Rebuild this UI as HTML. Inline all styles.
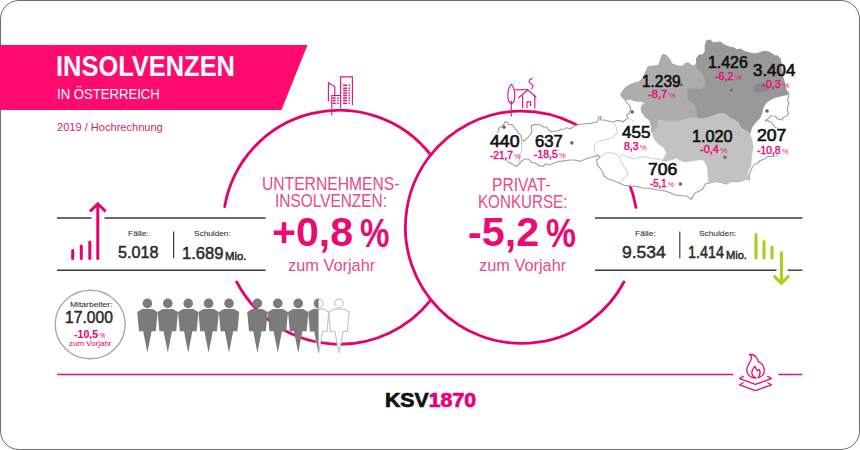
<!DOCTYPE html>
<html><head><meta charset="utf-8">
<style>
*{margin:0;padding:0;box-sizing:border-box}
html,body{width:860px;height:450px;overflow:hidden;background:#fff}
body{position:relative;font-family:"Liberation Sans",sans-serif}
.t{position:absolute;white-space:nowrap;line-height:1}
.frame{position:absolute;left:0;top:0;width:860px;height:450px;border:1.5px solid #6e6e6e;border-radius:19px}
svg{position:absolute;left:0;top:0}
.pk{color:#e5006e}
.dk{color:#2b2b2b}
.sk{-webkit-text-stroke:0.5px #2b2b2b}
.sk2{-webkit-text-stroke:0.08px #2b2b2b;color:#333}
.hd{color:#e64a8a}
.big{color:#ea0a72}
.b{font-weight:bold}
.pc{font-size:0.62em;font-weight:normal;margin-left:0.18em}
.nm{color:#111;font-weight:normal!important;-webkit-text-stroke:0.62px #111}
.pp{color:#e3127a;font-weight:normal!important;-webkit-text-stroke:0.45px #e3127a}
.pp .pc{font-size:0.74em;-webkit-text-stroke:0;margin-left:0.15em}
</style></head>
<body>
<div class="frame"></div>
<svg width="860" height="450" viewBox="0 0 860 450">
 <!-- banner -->
 <polygon points="0,45 307.5,45 281.5,110 0,110" fill="#ff0a6e"/>
 <!-- circles -->
 <g fill="none" stroke="#e6006e" stroke-width="2.8" stroke-linecap="round">
  <path d="M224.7,206.5 A116.15,116.15 0 0 1 430.9,155.1"/>
  <path d="M430.9,299.8 A116.15,116.15 0 0 1 236.7,282"/>
  <path d="M636,207.4 A116.15,116.15 0 1 0 624,282"/>
 </g>
<g id="map">
 <path fill="#fff" d="M505.2,121.5 L507.5,122.6 508.1,124.4 512.7,124.9 514.4,127.2 515.6,129.5 517.3,130.7 518.5,133.6 520.8,135.3 522,140 524.3,141.1 527.7,137.6 530.6,134.2 531.8,130.7 531.2,126.1 533.5,124.9 534.7,124.3 540.7,125 543.3,127 546,127 548.7,129.7 551.3,131.7 556.7,131 560.7,129.7 564.7,129 566.7,127.7 568.7,128.3 570.7,128.7 574.7,126 578,124.7 584,124 590.7,123.3 597.3,122 598.7,117.3 601.3,116.7 600,120 604,120 609.3,121.3 613.3,122 616,120.7 620.7,120.7 622.7,122 628,118 626.7,115.3 629.3,113.3 630.7,108 629.3,105.3 626.7,102.7 625.3,100 622,97.1 620.9,94.3 623,91 626.7,86.7 632,84 638.9,82.2 642.7,79 646.7,70.3 648,67 652,66.3 658.7,65.7 660.7,59.7 662,55.7 664,54.3 666.7,56.3 670,59.7 671.3,63.7 674.7,65 678.7,66.3 682.7,66.3 685.3,63.7 688,63 690.7,65 694.7,66.3 696.7,63 696.7,58.3 699.3,55 702.7,55 705.3,51.7 705.3,45.7 706.7,41 710,40 713,43 720,42 724,45 729,47 734,48 737,50 740,49 744,51.3 750.7,53.3 756,54 760.7,52.7 762,52 765.3,51.3 768.7,52 772,54 774.7,56 777.3,56 780,58.7 780.7,62.7 781.3,66.7 782.7,77.3 784,81.3 784.7,86 786,90 788.7,93.3 788.5,97 787.5,100 789,103 787.5,107 787.5,111 788.7,113.3 786.7,116 783.3,117.3 782,120 777.3,118.7 775.3,116 770.7,116 768.7,118 765.3,120.7 769.3,121.3 772,123.3 774,125.3 775,127.5 780,129 786,131 787,140 786,146 784,154 776,156 767.3,156.7 765.3,158.7 760,160.7 758,163 755,164 752,168 750,172 749.3,176 749.3,180 746.7,178.7 740,181.3 730.7,181.3 726.7,184 717.3,181.3 710.7,182.7 705.3,184 702.7,189.3 694.7,193.3 691.3,199.3 686.7,196 675.6,195.2 672.4,193.6 666,191.2 658,190 650,188.4 642.7,188 637.3,186.7 630.7,186 624,185.3 618.7,182.7 613.3,180.7 608,178.7 604,176 602.7,172 600,168 597.3,165.3 596.7,160 600,156.7 598.7,155.3 593.3,156.7 586.7,158.7 580,161.3 574.7,160 570.7,160 565.3,160.7 560,161.3 558,161.7 554,163 550,165 546,163.7 543.3,166.3 539.3,165.7 535.3,163 531.3,162.3 528.7,159 524.7,159 522,161 518.7,164.3 516.2,166.5 512.7,164.2 509.2,162.5 506,160 502,154 499,148 497.5,141 497.5,134 498.9,130.1 498.3,128.4 501.2,126.7 504,123.8 Z"/>
 <path fill="none" stroke="#a4a4a4" stroke-width="1.2" stroke-linejoin="round" d="M505.2,121.5 L507.5,122.6 508.1,124.4 512.7,124.9 514.4,127.2 515.6,129.5 517.3,130.7 518.5,133.6 520.8,135.3 522,140 524.3,141.1 527.7,137.6 530.6,134.2 531.8,130.7 531.2,126.1 533.5,124.9 534.7,124.3 540.7,125 543.3,127 546,127 548.7,129.7 551.3,131.7 556.7,131 560.7,129.7 564.7,129 566.7,127.7 568.7,128.3 570.7,128.7 574.7,126 578,124.7 584,124 590.7,123.3 597.3,122 598.7,117.3 601.3,116.7 600,120 604,120 609.3,121.3 613.3,122 616,120.7 620.7,120.7 622.7,122 628,118 626.7,115.3 629.3,113.3 630.7,108 629.3,105.3 626.7,102.7 625.3,100 622,97.1 620.9,94.3 623,91 626.7,86.7 632,84 638.9,82.2 642.7,79 646.7,70.3 648,67 652,66.3 658.7,65.7 660.7,59.7 662,55.7 664,54.3 666.7,56.3 670,59.7 671.3,63.7 674.7,65 678.7,66.3 682.7,66.3 685.3,63.7 688,63 690.7,65 694.7,66.3 696.7,63 696.7,58.3 699.3,55 702.7,55 705.3,51.7 705.3,45.7 706.7,41 710,40 713,43 720,42 724,45 729,47 734,48 737,50 740,49 744,51.3 750.7,53.3 756,54 760.7,52.7 762,52 765.3,51.3 768.7,52 772,54 774.7,56 777.3,56 780,58.7 780.7,62.7 781.3,66.7 782.7,77.3 784,81.3 784.7,86 786,90 788.7,93.3 788.5,97 787.5,100 789,103 787.5,107 787.5,111 788.7,113.3 786.7,116 783.3,117.3 782,120 777.3,118.7 775.3,116 770.7,116 768.7,118 765.3,120.7 769.3,121.3 772,123.3 774,125.3 775,127.5 780,129 786,131 787,140 786,146 784,154 776,156 767.3,156.7 765.3,158.7 760,160.7 758,163 755,164 752,168 750,172 749.3,176 749.3,180 746.7,178.7 740,181.3 730.7,181.3 726.7,184 717.3,181.3 710.7,182.7 705.3,184 702.7,189.3 694.7,193.3 691.3,199.3 686.7,196 675.6,195.2 672.4,193.6 666,191.2 658,190 650,188.4 642.7,188 637.3,186.7 630.7,186 624,185.3 618.7,182.7 613.3,180.7 608,178.7 604,176 602.7,172 600,168 597.3,165.3 596.7,160 600,156.7 598.7,155.3 593.3,156.7 586.7,158.7 580,161.3 574.7,160 570.7,160 565.3,160.7 560,161.3 558,161.7 554,163 550,165 546,163.7 543.3,166.3 539.3,165.7 535.3,163 531.3,162.3 528.7,159 524.7,159 522,161 518.7,164.3 516.2,166.5 512.7,164.2 509.2,162.5 507,161.7"/>
 <path fill="none" stroke="#a4a4a4" stroke-width="1.2" stroke-linejoin="round" d="M497.6,133 L498.9,130.1 498.3,128.4 501.2,126.7 504,123.8 505.2,121.5"/>
 <g fill="none" stroke="#c8c8c8" stroke-width="0.9" stroke-linejoin="round">
  <path d="M522,140 L521.3,141.7 522,149.7 520,155 518.7,164.3"/>
  <path d="M613.3,122 L616,126.7 617.3,132 614.7,136 610.7,138.7 605.3,140 598.7,141.3 594.7,144 594,149.3 595.3,153.3 598.7,155.3"/>
  <path d="M600,156.7 L605.3,153.3 610.7,152.7 616,154 618.7,157.3 621.3,161.3 624,166.7 628,173.3 625.3,177.3 618.7,182.7"/>
  <path d="M618.7,157.3 L622.7,154.7 628,157.3 634.7,158.7 640,156.7 646.7,157.3 653.3,158.7 660,159.3 664,161"/>
  <path d="M626.4,118.2 L628.7,118.8 631.4,119.3 633.7,122.1"/>
 </g>
 <rect x="776.5" y="128" width="16" height="27.5" fill="#fff"/>
 <!-- OOe -->
 <path fill="#adadad" stroke="#adadad" stroke-width="0.6" d="M620.9,94.3 L623,91 626.7,86.7 632,84 638.9,82.2 642.7,79 646.7,70.3 648,67 652,66.3 658.7,65.7 660.7,59.7 662,55.7 664,54.3 666.7,56.3 670,59.7 671.3,63.7 674.7,65 678.7,66.3 682.7,66.3 685.3,63.7 688,63 690.7,65 694.7,66.3 696.7,63 696.7,68.3 702.7,73.7 705,78 705.4,80.4 704.9,86 701.6,88.2 699.3,89.3 696,88.8 688.2,88.8 687.1,90.4 687.7,98.2 690.4,101.6 694.9,104.9 696.6,109.3 697.1,116 698.2,118.2 692.7,117.7 687.1,118.8 682.7,120.4 676,121.5 669.3,122.1 664.9,121 658.8,119.9 657.7,127.1 655.4,130.4 652.7,132.5 650.9,131.6 651.4,127 650.3,122.7 648.7,119.3 646.4,118.2 644.2,116 642,112.7 640.9,108.2 642,104.9 644.8,103.8 644.2,102.7 641.4,101.6 638.7,101.6 634.2,101 630.3,99.3 627.6,99.9 625.3,99.3 622,97.1 Z"/>
 <!-- NOe -->
 <path fill="#999999" stroke="#999999" stroke-width="0.6" d="M696.7,63 L696.7,58.3 699.3,55 702.7,55 705.3,51.7 705.3,45.7 706.7,41 710,40 713,43 720,42 724,45 729,47 734,48 737,50 740,49 744,51.3 750.7,53.3 756,54 760.7,52.7 762,52 765.3,51.3 768.7,52 772,54 774.7,56 777.3,56 780,58.7 780.7,62.7 781.3,66.7 782.7,77.3 784,81.3 784.7,86 786,90 788.7,93.3 786.7,95 781,96 774,98 770,100 766,103 763,108 762,113 760,118 756,122 752,127 750,134 748,132 741,128 738,122 730,118 726,114.3 721.6,113.2 717.1,114.3 712.7,116 707.1,117.7 702.7,118.8 698.2,118.2 697.1,116 696.6,109.3 694.9,104.9 690.4,101.6 687.7,98.2 687.1,90.4 688.2,88.8 696,88.8 699.3,89.3 701.6,88.2 704.9,86 705.4,80.4 705,78 702.7,73.7 696.7,68.3 Z"/>
 <!-- Wien -->
 <path fill="#888888" d="M753.3,86.7 L756,84 761.3,82.7 765,83 768.5,85.5 770,89 768,90.7 762.7,92 757.3,92.7 754,90.7 Z"/>
 <!-- Steiermark -->
 <path fill="#c2c2c2" stroke="#c2c2c2" stroke-width="0.6" d="M658.8,119.9 L664.9,121 669.3,122.1 676,121.5 682.7,120.4 687.1,118.8 692.7,117.7 698.2,118.2 702.7,118.8 707.1,117.7 712.7,116 717.1,114.3 721.6,113.2 726,114.3 730,118 738,122 741,128 748,132 750,134 752,140 753.3,146.7 752,153.3 750.7,166.7 748,170.7 748,176 749.3,180 746.7,178.7 740,181.3 730.7,181.3 726.7,184 717.3,181.3 710.7,182.7 708.9,182.2 707.8,175.6 707.8,170 706.7,165.6 704.4,161.1 701.1,159.4 695.6,160.6 690,161.1 685.6,162.2 680,160.6 676.7,158.3 672.2,159.4 666.7,161.1 663.8,161 662.9,159.7 664.8,156 666.6,153.7 665.7,151.8 664.3,148.5 662,146.2 658.2,143.9 654.5,139.2 652.2,133.6 652.7,132.5 655.4,130.4 657.7,127.1 Z"/>
 <!-- dots -->
 <g fill="#5a5a5a" stroke="#9a9a9a" stroke-width="0.8">
  <circle cx="504.1" cy="127.2" r="1.6"/>
  <circle cx="571.8" cy="142.8" r="1.6"/>
  <circle cx="632.2" cy="111.9" r="1.6"/>
  <circle cx="681.2" cy="84.8" r="1.6"/>
  <circle cx="731.4" cy="90" r="1.6"/>
  <circle cx="767" cy="111" r="1.6"/>
  <circle cx="725" cy="157.3" r="1.6"/>
  <circle cx="680.4" cy="184" r="1.6"/>
 </g>
</g>

<g fill="none" stroke="#e2157a" stroke-width="1.15" stroke-linecap="butt" stroke-linejoin="miter">
 <!-- buildings -->
 <path d="M328.4,101.4 V82.8 L334.8,86.7 V95.5"/>
 <path d="M331.8,115.6 V95.5 H340.1"/>
 <path d="M340.6,108.2 V76.9 H352.4 V105.3"/>
 <!-- house -->
 <path d="M511.3,116.6 V100.4"/>
 <path d="M511.3,84.3 C509,86.5 507.9,91 507.9,95.5 C507.9,100 509.3,103.4 511.3,103.4 C513.3,103.4 514.8,100 514.8,95.5 C514.8,91 513.6,86.5 511.3,84.3 Z"/>
 <path d="M515.3,89.7 H528"/>
 <path d="M518.2,98 L528,90.1 L536.3,97.5"/>
 <path d="M522.6,108.2 V95.5 M534.8,108.2 V95.5"/>
 <path d="M527,108.2 V101.9 H530.6 V106.3"/>
 <path d="M532.4,78.4 C529.5,79.5 528.6,81 529.2,82.3 C530,83.8 533.2,84.2 532.9,86 C532.7,87.4 531.8,88.4 531.4,89.2"/>
</g>
<g stroke="#e2157a" stroke-width="1.5">
 <path d="M332.6,98 H335.7 M337.2,98 H338.7 M332.6,100.4 H335.7 M337.2,100.4 H338.7 M332.6,103.2 H335.7 M337.2,103.2 H338.7"/>
 <path d="M343.1,85.3 H347 M348.5,85.3 H349.9 M343.1,88.2 H347 M348.5,88.2 H349.9 M343.1,90.6 H347 M348.5,90.6 H349.9 M343.1,93.1 H347 M348.5,93.1 H349.9 M343.1,95.5 H347 M348.5,95.5 H349.9 M343.1,98 H347 M348.5,98 H349.9 M343.1,100.4 H347 M348.5,100.4 H349.9 M343.1,103.2 H347 M348.5,103.2 H349.9"/>
</g>
<!-- fire -->
<g fill="none" stroke="#e0157a" stroke-width="1.3" stroke-linejoin="round" stroke-linecap="round">
 <path d="M755.7,378 C752,377.8 749,376.5 747.6,373.5 C746.2,370.5 746.8,367.5 748.4,364.8 C750,362.2 752,360 751.4,357 C751.1,355.8 750.3,355 749.3,354.7 C752.5,354 755.5,356 757,358.5 C757.8,359.8 758.2,361 758.3,362 C758.8,361.8 759.5,362 760,362.5 C762.5,364.2 764.3,367 764.3,370 C764.3,373.8 762,376.8 758,377.8"/>
 <path d="M755.7,377.8 C753.2,376.8 751.7,374.6 751.8,372.3 C751.9,369.8 753.6,368.2 755,366.2 C755.6,367.8 756.4,369.5 757.3,370.8 C757.8,370.2 758.3,369.7 759,369.5 C760.2,371 760.5,373 759.6,375 C759.2,376 758.6,376.8 758.2,377.5"/>
 <path d="M743.3,376.4 L739.6,378.6 L755.5,384.4 L771.4,378.6 L767.7,376.4"/>
 <path d="M743.3,382.8 L739.6,384.8 L755.5,390.6 L771.4,384.8 L767.7,382.8"/>
</g>

 <!-- info lines -->
 <g stroke="#3a3a3a" stroke-width="1.4">
  <line x1="57" y1="218" x2="91.5" y2="218"/>
  <line x1="104.5" y1="218" x2="265.5" y2="218"/>
  <line x1="57" y1="270.2" x2="265.5" y2="270.2"/>
  <line x1="595" y1="218" x2="802.5" y2="218"/>
  <line x1="595" y1="270.2" x2="776.5" y2="270.2"/>
  <line x1="787.5" y1="270.2" x2="802.5" y2="270.2"/>
  <line x1="173.6" y1="231.5" x2="173.6" y2="258.2" stroke-width="1.2"/>
  <line x1="679.8" y1="231.5" x2="679.8" y2="258.2" stroke-width="1.2"/>
 </g>
 <!-- left up arrow + bars -->
 <g stroke="#e6006e" stroke-width="3" stroke-linecap="round" fill="none">
  <line x1="72.7" y1="250.5" x2="72.7" y2="258.5"/>
  <line x1="81.3" y1="246" x2="81.3" y2="258.5"/>
  <line x1="89.8" y1="242" x2="89.8" y2="258.5"/>
  <line x1="97.8" y1="205" x2="97.8" y2="258.5"/>
  <polyline points="90,211.5 97.8,203.8 105.6,211.5" stroke-linecap="butt" stroke-linejoin="miter"/>
 </g>
 <!-- right down arrow + bars (green) -->
 <g stroke="#a5d215" stroke-width="3" stroke-linecap="round" fill="none">
  <line x1="756" y1="234.5" x2="756" y2="258"/>
  <line x1="764" y1="241.5" x2="764" y2="258"/>
  <line x1="772" y1="247" x2="772" y2="258"/>
  <line x1="781.4" y1="252.5" x2="781.4" y2="282"/>
  <polyline points="773.6,275.6 781.4,283.4 789.2,275.6" stroke-linecap="butt"/>
 </g>
 <!-- bottom line -->
 <g stroke="#e0127a" stroke-width="1.5">
  <line x1="57.2" y1="374.5" x2="733" y2="374.5"/>
  <line x1="778.3" y1="374.5" x2="802.4" y2="374.5"/>
 </g>
 <!-- mitarbeiter circle -->
 <ellipse cx="90.2" cy="324.5" rx="35" ry="34.2" fill="none" stroke="#a9a9a9" stroke-width="1.4"/>
<defs><clipPath id="halfclip"><rect x="300" y="290" width="18.6" height="70"/></clipPath></defs>
<g fill="#7b7b7b">
<circle cx="147.4" cy="303.4" r="4.8"/><path d="M137.2,312 L142.3,309.1 L152.5,309.1 L157.6,312 L155.8,331.3 L151.6,331.3 L147.4,352.8 L143.2,331.3 L139.0,331.3 Z"/>
<circle cx="167.8" cy="303.4" r="4.8"/><path d="M157.6,312 L162.7,309.1 L172.9,309.1 L178.0,312 L176.2,331.3 L172.0,331.3 L167.8,352.8 L163.6,331.3 L159.4,331.3 Z"/>
<circle cx="188.2" cy="303.4" r="4.8"/><path d="M178.0,312 L183.1,309.1 L193.3,309.1 L198.4,312 L196.6,331.3 L192.4,331.3 L188.2,352.8 L184.0,331.3 L179.8,331.3 Z"/>
<circle cx="208.6" cy="303.4" r="4.8"/><path d="M198.4,312 L203.5,309.1 L213.7,309.1 L218.8,312 L217.0,331.3 L212.8,331.3 L208.6,352.8 L204.4,331.3 L200.2,331.3 Z"/>
<circle cx="229.0" cy="303.4" r="4.8"/><path d="M218.8,312 L223.9,309.1 L234.1,309.1 L239.2,312 L237.4,331.3 L233.2,331.3 L229.0,352.8 L224.8,331.3 L220.6,331.3 Z"/>
<circle cx="257.4" cy="303.4" r="4.8"/><path d="M247.2,312 L252.3,309.1 L262.5,309.1 L267.6,312 L265.8,331.3 L261.6,331.3 L257.4,352.8 L253.2,331.3 L249.0,331.3 Z"/>
<circle cx="277.8" cy="303.4" r="4.8"/><path d="M267.6,312 L272.7,309.1 L282.9,309.1 L288.0,312 L286.2,331.3 L282.0,331.3 L277.8,352.8 L273.6,331.3 L269.4,331.3 Z"/>
<circle cx="298.2" cy="303.4" r="4.8"/><path d="M288.0,312 L293.1,309.1 L303.3,309.1 L308.4,312 L306.6,331.3 L302.4,331.3 L298.2,352.8 L294.0,331.3 L289.8,331.3 Z"/>
</g>
<g fill="#fff" stroke="#c6c6c6" stroke-width="1.2" stroke-linejoin="round"><circle cx="318.6" cy="303.4" r="4.3"/><path d="M308.4,312 L313.5,309.1 L323.7,309.1 L328.8,312 L327.0,331.3 L322.8,331.3 L318.6,352.8 L314.4,331.3 L310.2,331.3 Z"/></g>
<g fill="#7b7b7b" clip-path="url(#halfclip)"><circle cx="318.6" cy="303.4" r="4.8"/><path d="M308.4,312 L313.5,309.1 L323.7,309.1 L328.8,312 L327.0,331.3 L322.8,331.3 L318.6,352.8 L314.4,331.3 L310.2,331.3 Z"/></g>
<g fill="#fff" stroke="#c6c6c6" stroke-width="1.2" stroke-linejoin="round"><circle cx="339.0" cy="303.4" r="4.3"/><path d="M328.8,312 L333.9,309.1 L344.1,309.1 L349.2,312 L347.4,331.3 L343.2,331.3 L339.0,352.8 L334.8,331.3 L330.6,331.3 Z"/></g>
</svg>

<!-- header texts -->
<div class="t b" id="title" style="left:56.11px;top:52.35px;font-size:28.60px;color:#fff;transform:scaleX(0.8894);transform-origin:0 0">INSOLVENZEN</div>
<div class="t" id="sub" style="left:56.73px;top:86.72px;font-size:14.10px;color:#fff;transform:scaleX(0.9304);transform-origin:0 0">IN ÖSTERREICH</div>
<div class="t" id="hoch" style="left:57.18px;top:122.37px;font-size:11.30px;color:#d4246f;transform:scaleX(0.9791);transform-origin:0 0">2019 / Hochrechnung</div>

<!-- circle texts -->
<div class="t hd" id="un1" style="left:262.46px;top:176.26px;font-size:17.60px;transform:scaleX(0.8893);transform-origin:0 0">UNTERNEHMENS-</div>
<div class="t hd" id="un2" style="left:275.17px;top:193.23px;font-size:17.60px;transform:scaleX(0.8767);transform-origin:0 0">INSOLVENZEN:</div>
<div class="t pk b big" id="un3" style="left:272.37px;top:212.27px;font-size:40.50px;transform:scaleX(1.0150);transform-origin:0 0">+0,8</div>
<div class="t pk b big" id="un3p" style="left:360.24px;top:212.70px;font-size:40.50px;transform:scaleX(0.8195);transform-origin:0 0">%</div>
<div class="t hd" id="un4" style="left:287.70px;top:257.31px;font-size:16.20px;transform:scaleX(1.0103);transform-origin:0 0">zum Vorjahr</div>

<div class="t hd" id="pr1" style="left:492.03px;top:177.18px;font-size:17.60px;transform:scaleX(0.8872);transform-origin:0 0">PRIVAT-</div>
<div class="t hd" id="pr2" style="left:477.88px;top:193.57px;font-size:17.60px;transform:scaleX(0.8623);transform-origin:0 0">KONKURSE:</div>
<div class="t pk b big" id="pr3" style="left:468.02px;top:212.27px;font-size:40.50px;transform:scaleX(1.0211);transform-origin:0 0">-5,2</div>
<div class="t pk b big" id="pr3p" style="left:545.62px;top:212.70px;font-size:40.50px;transform:scaleX(0.8312);transform-origin:0 0">%</div>
<div class="t hd" id="pr4" style="left:478.69px;top:257.31px;font-size:16.20px;transform:scaleX(1.0103);transform-origin:0 0">zum Vorjahr</div>

<!-- info box texts -->
<div class="t dk sk2" id="lf1" style="left:127.67px;top:230.06px;font-size:8.00px;transform:scaleX(1.0581);transform-origin:0 0">Fälle:</div>
<div class="t dk sk" id="lf2" style="left:118.08px;top:244.94px;font-size:16.60px;transform:scaleX(0.9761);transform-origin:0 0">5.018</div>
<div class="t dk sk2" id="ls1" style="left:193.55px;top:230.40px;font-size:8.10px;transform:scaleX(1.0213);transform-origin:0 0">Schulden:</div>
<div class="t dk sk" id="ls2" style="left:181.60px;top:245.62px;font-size:16.60px;transform:scaleX(1.0012);transform-origin:0 0">1.689</div>
<div class="t dk sk" id="lsm" style="left:225.29px;top:251.25px;font-size:11.20px;transform:scaleX(1.0129);transform-origin:0 0">Mio.</div>

<div class="t dk sk2" id="rf1" style="left:634.95px;top:230.06px;font-size:8.00px;transform:scaleX(1.0653);transform-origin:0 0">Fälle:</div>
<div class="t dk sk" id="rf2" style="left:622.08px;top:244.69px;font-size:16.60px;transform:scaleX(1.0541);transform-origin:0 0">9.534</div>
<div class="t dk sk2" id="rs1" style="left:699.07px;top:229.99px;font-size:8.10px;transform:scaleX(1.0302);transform-origin:0 0">Schulden:</div>
<div class="t dk sk" id="rs2" style="left:688.12px;top:244.89px;font-size:16.60px;transform:scaleX(0.8655);transform-origin:0 0">1.414</div>
<div class="t dk sk" id="rsm" style="left:726.11px;top:250.25px;font-size:11.20px;transform:scaleX(0.9873);transform-origin:0 0">Mio.</div>

<!-- mitarbeiter -->
<div class="t dk sk2" id="m1" style="left:69.52px;top:301.49px;font-size:7.85px;transform:scaleX(1.0842);transform-origin:0 0">Mitarbeiter:</div>
<div class="t dk sk" id="m2" style="left:65.16px;top:309.00px;font-size:16.40px;transform:scaleX(0.9549);transform-origin:0 0">17.000</div>
<div class="t pk b" id="m3" style="left:74.31px;top:329.11px;font-size:11.10px;transform:scaleX(0.9571);transform-origin:0 0">-10,5<span class="pc">%</span></div>
<div class="t pk" id="m4" style="left:68.58px;top:339.74px;font-size:8.00px;transform:scaleX(0.9956);transform-origin:0 0">zum Vorjahr</div>

<!-- map labels -->
<div class="t b nm" id="n440" style="left:489.84px;top:133.51px;font-size:15.70px;transform:scaleX(1.1288);transform-origin:0 0">440</div>
<div class="t b pp" id="p440" style="left:490.15px;top:150.74px;font-size:10.20px;transform:scaleX(0.9885);transform-origin:0 0">-21,7<span class="pc">%</span></div>
<div class="t b nm" id="n637" style="left:535.38px;top:133.81px;font-size:15.70px;transform:scaleX(1.0652);transform-origin:0 0">637</div>
<div class="t b pp" id="p637" style="left:533.59px;top:150.47px;font-size:10.20px;transform:scaleX(1.0218);transform-origin:0 0">-18,5<span class="pc">%</span></div>
<div class="t b nm" id="n1239" style="left:642.40px;top:73.82px;font-size:15.70px;transform:scaleX(0.9840);transform-origin:0 0">1.239</div>
<div class="t b pp" id="p1239" style="left:648.31px;top:90.18px;font-size:10.20px;transform:scaleX(1.0920);transform-origin:0 0">-8,7<span class="pc">%</span></div>
<div class="t b nm" id="n1426" style="left:707.67px;top:54.84px;font-size:15.70px;transform:scaleX(1.0131);transform-origin:0 0">1.426</div>
<div class="t b pp" id="p1426" style="left:715.47px;top:71.51px;font-size:10.20px;transform:scaleX(1.0613);transform-origin:0 0">-6,2<span class="pc">%</span></div>
<div class="t b nm" id="n3404" style="left:753.49px;top:63.09px;font-size:15.70px;transform:scaleX(1.0772);transform-origin:0 0">3.404</div>
<div class="t b pp" id="p3404" style="left:761.65px;top:79.73px;font-size:10.20px;transform:scaleX(1.0790);transform-origin:0 0">-0,3<span class="pc">%</span></div>
<div class="t b nm" id="n455" style="left:621.81px;top:125.45px;font-size:15.70px;transform:scaleX(1.0859);transform-origin:0 0">455</div>
<div class="t b pp" id="p455" style="left:624.36px;top:141.88px;font-size:10.20px;transform:scaleX(1.0250);transform-origin:0 0">8,3<span class="pc">%</span></div>
<div class="t b nm" id="n1020" style="left:691.70px;top:128.74px;font-size:15.70px;transform:scaleX(1.0333);transform-origin:0 0">1.020</div>
<div class="t b pp" id="p1020" style="left:699.51px;top:145.47px;font-size:10.20px;transform:scaleX(1.0802);transform-origin:0 0">-0,4<span class="pc">%</span></div>
<div class="t b nm" id="n207" style="left:757.36px;top:128.39px;font-size:15.70px;transform:scaleX(1.1239);transform-origin:0 0">207</div>
<div class="t b pp" id="p207" style="left:756.57px;top:146.11px;font-size:10.20px;transform:scaleX(1.0114);transform-origin:0 0">-10,8<span class="pc">%</span></div>
<div class="t b nm" id="n706" style="left:647.78px;top:162.39px;font-size:15.70px;transform:scaleX(1.1199);transform-origin:0 0">706</div>
<div class="t b pp" id="p706" style="left:649.78px;top:179.17px;font-size:10.20px;transform:scaleX(0.9466);transform-origin:0 0">-5,1<span class="pc">%</span></div>
<!-- logo -->
<div class="t b" id="logo" style="-webkit-text-stroke-width:0.7px;left:384.84px;top:390.97px;font-size:19.50px;color:#111;transform:scaleX(1.0913);transform-origin:0 0">KSV<span style="color:#e6007e">1870</span></div>
</body></html>
